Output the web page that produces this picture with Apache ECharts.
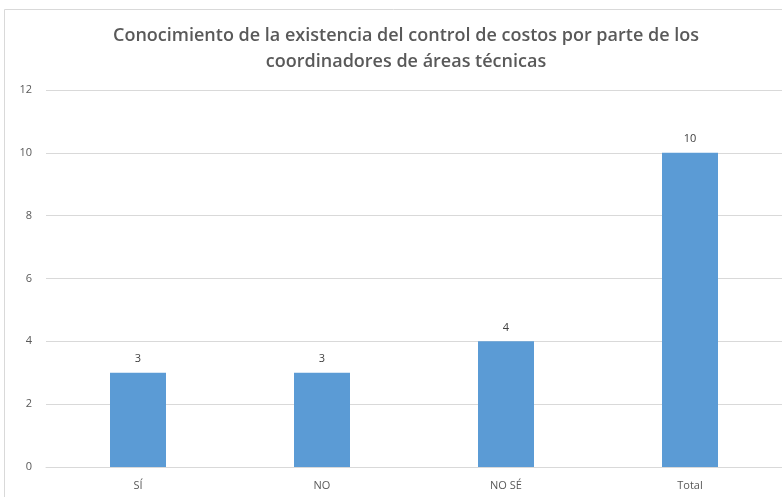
<!DOCTYPE html>
<html><head><meta charset="utf-8">
<script src="https://cdn.jsdelivr.net/npm/echarts@6/dist/echarts.min.js"></script>
<style>html,body{margin:0;padding:0;background:#fff}#c{width:782px;height:497px}</style>
</head><body><div id="c"></div>
<script>
var categories = ['SÍ', 'NO', 'NO SÉ', 'Total'];
var values = [3, 3, 4, 10];
var chart = echarts.init(document.getElementById('c'));
chart.setOption({
  animation: false,
  graphic: [{type:'rect', shape:{x:4.5, y:9.5, width:800, height:500}, style:{fill:'none', stroke:'#d9d9d9', lineWidth:1}, silent:true}],
  title: {
    text: 'Conocimiento de la existencia del control de costos por parte de los\ncoordinadores de áreas técnicas',
    left: 401, top: 18, textAlign: 'center',
    textStyle: {fontFamily:'Open Sans', fontSize:18, fontWeight:600, color:'#595959', lineHeight:26}
  },
  grid: {left: 46, right: -2, top: 90, bottom: 30},
  xAxis: {
    type:'category', data: categories,
    axisTick:{show:false},
    axisLine:{lineStyle:{color:'#d9d9d9'}},
    axisLabel:{color:'#595959', fontSize:11, fontFamily:'Open Sans', margin:13}
  },
  yAxis: {
    type:'value', min:0, max:12, interval:2,
    axisLine:{show:false}, axisTick:{show:false},
    splitLine:{lineStyle:{color:'#d9d9d9'}},
    axisLabel:{color:'#595959', fontSize:11, fontFamily:'Open Sans', margin:14}
  },
  series: [{
    type:'bar', data: values, barWidth:56,
    itemStyle:{color:'#5b9bd5'},
    label:{show:true, position:'top', color:'#404040', fontSize:11, fontFamily:'Open Sans', distance:8}
  }]
});
</script></body></html>
